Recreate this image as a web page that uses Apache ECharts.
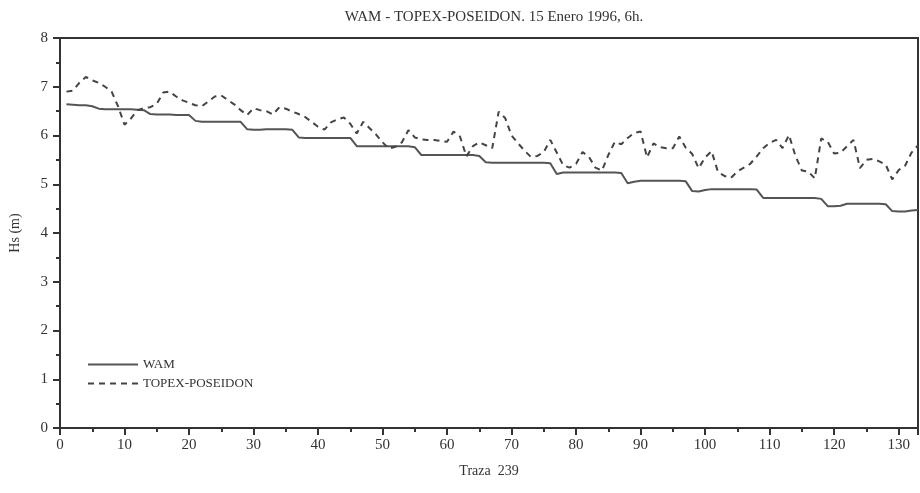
<!DOCTYPE html>
<html>
<head>
<meta charset="utf-8">
<script src="https://cdn.jsdelivr.net/npm/echarts@6/dist/echarts.min.js"></script>
<style>
  html, body { margin: 0; padding: 0; background: #fff; }
  #chart { width: 920px; height: 493px; }
</style>
</head>
<body>
<div id="chart"></div>
<script>
  // traza index 1..133
  const traza = []
  for (let i = 1; i <= 133; i++) traza.push(i)

  const wam = [
    6.64, 6.63, 6.62, 6.62, 6.60, 6.55, 6.54, 6.54, 6.54, 6.54,
    6.54, 6.53, 6.52, 6.44, 6.43, 6.43, 6.43, 6.42, 6.42, 6.42,
    6.30, 6.28, 6.28, 6.28, 6.28, 6.28, 6.28, 6.28, 6.13, 6.12,
    6.12, 6.13, 6.13, 6.13, 6.13, 6.12, 5.96, 5.95, 5.95, 5.95,
    5.95, 5.95, 5.95, 5.95, 5.95, 5.78, 5.78, 5.78, 5.78, 5.78,
    5.78, 5.78, 5.78, 5.78, 5.76, 5.60, 5.60, 5.60, 5.60, 5.60,
    5.60, 5.60, 5.60, 5.60, 5.58, 5.45, 5.44, 5.44, 5.44, 5.44,
    5.44, 5.44, 5.44, 5.44, 5.44, 5.43, 5.21, 5.24, 5.24, 5.24,
    5.24, 5.24, 5.24, 5.24, 5.24, 5.24, 5.23, 5.02, 5.05, 5.07,
    5.07, 5.07, 5.07, 5.07, 5.07, 5.07, 5.06, 4.86, 4.85, 4.88,
    4.90, 4.90, 4.90, 4.90, 4.90, 4.90, 4.90, 4.89, 4.72, 4.72,
    4.72, 4.72, 4.72, 4.72, 4.72, 4.72, 4.72, 4.70, 4.55, 4.55,
    4.56, 4.60, 4.60, 4.60, 4.60, 4.60, 4.60, 4.59, 4.45, 4.44,
    4.44, 4.46, 4.47
  ]

  const topex = [
    6.90, 6.92, 7.08, 7.20, 7.13, 7.08, 7.00, 6.90, 6.60, 6.22,
    6.35, 6.52, 6.56, 6.58, 6.65, 6.88, 6.90, 6.80, 6.72, 6.67,
    6.62, 6.60, 6.70, 6.80, 6.82, 6.73, 6.64, 6.52, 6.42, 6.56,
    6.52, 6.50, 6.43, 6.58, 6.55, 6.49, 6.44, 6.38, 6.28, 6.18,
    6.12, 6.27, 6.33, 6.37, 6.24, 6.04, 6.28, 6.15, 6.02, 5.86,
    5.73, 5.77, 5.86, 6.11, 5.96, 5.92, 5.91, 5.91, 5.89, 5.87,
    6.08, 5.98, 5.57, 5.78, 5.86, 5.80, 5.74, 6.49, 6.36, 6.00,
    5.84, 5.69, 5.56, 5.58, 5.66, 5.91, 5.65, 5.39, 5.34, 5.42,
    5.66, 5.56, 5.34, 5.28, 5.60, 5.87, 5.82, 5.95, 6.05, 6.08,
    5.55, 5.84, 5.76, 5.74, 5.74, 5.98, 5.75, 5.62, 5.33, 5.55,
    5.68, 5.25, 5.17, 5.13, 5.26, 5.34, 5.42, 5.57, 5.74, 5.85,
    5.91, 5.74, 6.01, 5.58, 5.28, 5.26, 5.12, 5.94, 5.87, 5.63,
    5.65, 5.78, 5.91, 5.33, 5.50, 5.52, 5.47, 5.40, 5.10, 5.29,
    5.38, 5.65, 5.80
  ]

  const serif = 'Liberation Serif'
  const axisCol = '#333'

  const pairs = (ys) => traza.map((x, i) => [x, ys[i]])

  const chart = echarts.init(document.getElementById('chart'))
  chart.setOption({
    backgroundColor: '#fff',
    animation: false,
    title: {
      text: 'WAM - TOPEX-POSEIDON. 15 Enero 1996, 6h.',
      left: 489,
      top: 5,
      textAlign: 'center',
      textStyle: { fontFamily: serif, fontSize: 15, fontWeight: 'normal', color: '#333' }
    },
    legend: {
      orient: 'vertical',
      left: 82,
      top: 353,
      itemWidth: 50,
      itemHeight: 10,
      itemGap: 6,
      itemStyle: { opacity: 0 },
      textStyle: { fontFamily: serif, fontSize: 13, color: '#333' },
      data: ['WAM', 'TOPEX-POSEIDON']
    },
    grid: {
      left: 60, right: 2, top: 38, bottom: 65,
      show: true,
      borderColor: axisCol,
      borderWidth: 2
    },
    xAxis: {
      type: 'value',
      min: 0,
      max: 133,
      interval: 10,
      name: 'Traza  239',
      nameLocation: 'middle',
      nameGap: 36,
      nameTextStyle: { fontFamily: serif, fontSize: 14, color: '#333' },
      axisLine: { onZero: false, lineStyle: { color: axisCol, width: 2 } },
      axisTick: { length: 7, lineStyle: { color: axisCol, width: 2 } },
      minorTick: { show: true, splitNumber: 2, length: 4, lineStyle: { color: axisCol, width: 2 } },
      axisLabel: { fontFamily: serif, fontSize: 15, color: '#333', margin: 10 },
      splitLine: { show: false }
    },
    yAxis: {
      type: 'value',
      min: 0,
      max: 8,
      interval: 1,
      name: 'Hs (m)',
      nameLocation: 'middle',
      nameGap: 38,
      nameTextStyle: { fontFamily: serif, fontSize: 14, color: '#333' },
      axisLine: { lineStyle: { color: axisCol, width: 2 } },
      axisTick: { length: 7, lineStyle: { color: axisCol, width: 2 } },
      minorTick: { show: true, splitNumber: 2, length: 4, lineStyle: { color: axisCol, width: 2 } },
      axisLabel: { fontFamily: serif, fontSize: 15, color: '#333', margin: 12 },
      splitLine: { show: false }
    },
    series: [
      {
        name: 'WAM',
        type: 'line',
        data: pairs(wam),
        symbol: 'none',
        lineStyle: { color: '#555', width: 2 },
        itemStyle: { color: '#555' }
      },
      {
        name: 'TOPEX-POSEIDON',
        type: 'line',
        data: pairs(topex),
        symbol: 'none',
        lineStyle: { color: '#444', width: 2, type: [6, 5] },
        itemStyle: { color: '#444' }
      }
    ]
  })
</script>
</body>
</html>
